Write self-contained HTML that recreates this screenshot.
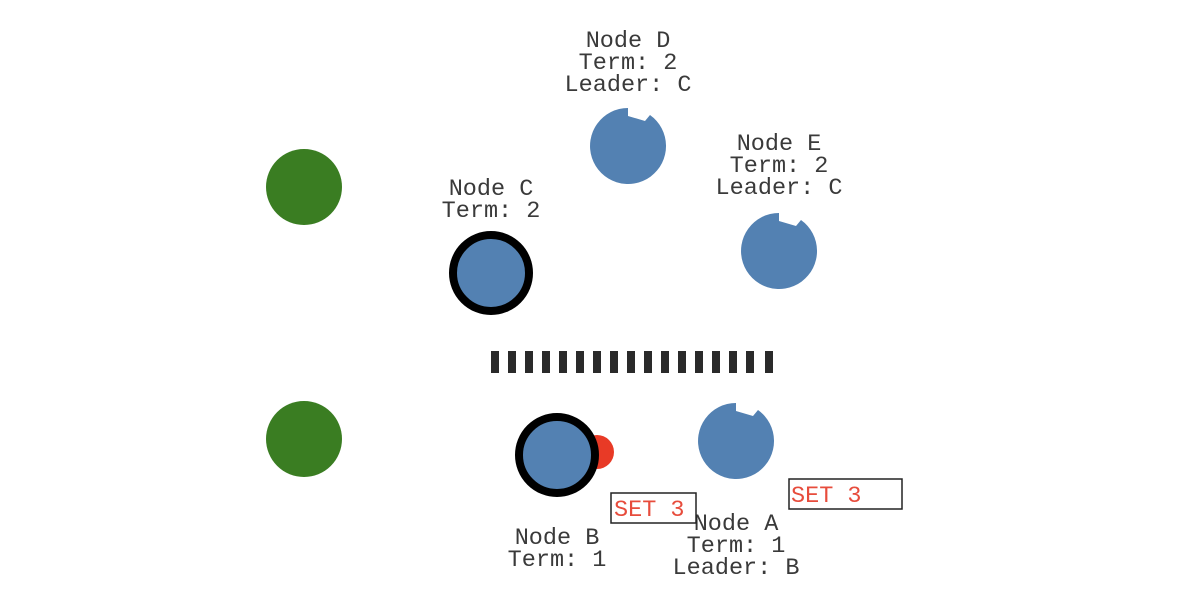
<!DOCTYPE html>
<html><head><style>body{margin:0;background:#fff}svg{display:block}text{font-family:"Liberation Mono","Courier New",monospace;font-size:23.5px;fill:#3a3a3a;text-anchor:middle}</style></head><body>
<svg width="1200" height="601" viewBox="0 0 1200 601">
<defs>
<path id="n" d="M0,-38 L0,-30 L17,-25 L22,-31 A38,38 0 1 1 0,-38 Z" fill="#5381b2"/>
</defs>
<circle cx="304" cy="187" r="38" fill="#3a7d22"/>
<circle cx="304" cy="439" r="38" fill="#3a7d22"/>
<use href="#n" x="628" y="146"/>
<use href="#n" x="779" y="251"/>
<use href="#n" x="736" y="441"/>
<circle cx="491" cy="273" r="38" fill="#5381b2" stroke="#000" stroke-width="8"/>
<circle cx="597" cy="452" r="17" fill="#e83a26"/>
<circle cx="557" cy="455" r="38" fill="#5381b2" stroke="#000" stroke-width="8"/>
<g fill="#2a2a2a">
<rect x="491" y="351" width="8" height="22"/><rect x="508" y="351" width="8" height="22"/><rect x="525" y="351" width="8" height="22"/><rect x="542" y="351" width="8" height="22"/><rect x="559" y="351" width="8" height="22"/><rect x="576" y="351" width="8" height="22"/><rect x="593" y="351" width="8" height="22"/><rect x="610" y="351" width="8" height="22"/><rect x="627" y="351" width="8" height="22"/><rect x="644" y="351" width="8" height="22"/><rect x="661" y="351" width="8" height="22"/><rect x="678" y="351" width="8" height="22"/><rect x="695" y="351" width="8" height="22"/><rect x="712" y="351" width="8" height="22"/><rect x="729" y="351" width="8" height="22"/><rect x="746" y="351" width="8" height="22"/><rect x="765" y="351" width="8" height="22"/>
</g>
<text x="628" y="47">Node D</text><text x="628" y="69">Term: 2</text><text x="628" y="91">Leader: C</text>
<text x="779" y="150">Node E</text><text x="779" y="172">Term: 2</text><text x="779" y="194">Leader: C</text>
<text x="491" y="195">Node C</text><text x="491" y="217">Term: 2</text>
<text x="557" y="544">Node B</text><text x="557" y="566">Term: 1</text>
<text x="736" y="530">Node A</text><text x="736" y="552">Term: 1</text><text x="736" y="574">Leader: B</text>
<rect x="611" y="493" width="85" height="30" fill="#fff" stroke="#222" stroke-width="1.5"/>
<text x="614" y="516" style="text-anchor:start;fill:#e74c3c">SET 3</text>
<rect x="789" y="479" width="113" height="30" fill="#fff" stroke="#222" stroke-width="1.5"/>
<text x="791" y="502" style="text-anchor:start;fill:#e74c3c">SET 3</text>
</svg>
</body></html>
